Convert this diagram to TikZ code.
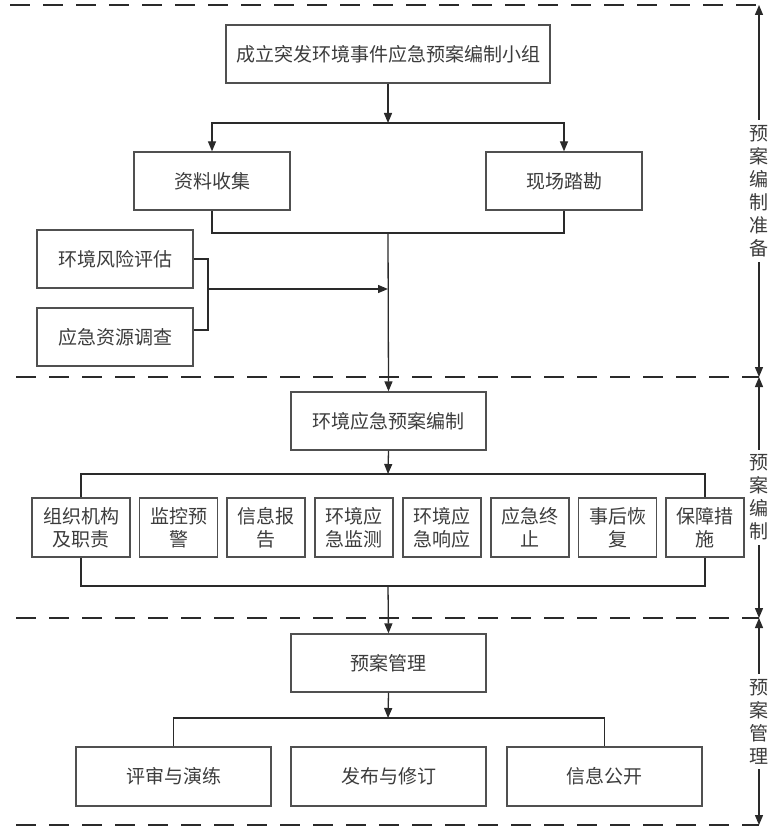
\documentclass[tikz,border=0pt]{standalone}
\usepackage{fontspec}
\newfontfamily\cjk{Noto Sans CJK SC}
\usetikzlibrary{arrows.meta}
\definecolor{boxc}{HTML}{505050}
\definecolor{linec}{HTML}{2A2A2A}
\definecolor{txtc}{HTML}{3C3C3C}
\begin{document}
\begin{tikzpicture}[x=1pt,y=-1pt,
  box/.style={draw=boxc, fill=white, line width=1.3pt, rectangle, minimum height=58pt, inner sep=0pt,
    text=txtc, font=\cjk\fontsize{19}{23}\selectfont, align=center},
  ln/.style={draw=linec, line width=1.3pt},
  arr/.style={ln, -{Triangle[length=10pt,width=8pt]}},
  darr/.style={ln, {Triangle[length=10pt,width=8pt]}-{Triangle[length=10pt,width=8pt]}},
  sepline/.style={draw=linec, line width=1.5pt, dash pattern=on 20pt off 13pt},
  side/.style={text=txtc, font=\cjk\fontsize{19}{23}\selectfont, fill=white, align=center, inner sep=5pt}]
\fill[white] (0,0) rectangle (782,837);
\useasboundingbox (0,0) rectangle (782,837);

% coordinates
\coordinate (d1) at (759,5);
\coordinate (d2) at (759,377);
\coordinate (d3) at (759,618);
\coordinate (d4) at (759,825);
\coordinate (l1) at (10,5);
\coordinate (l2) at (16,377);
\coordinate (l3) at (16,618);
\coordinate (l4) at (16,825);
\coordinate (s1) at (388,123);
\coordinate (m2) at (388,233);
\coordinate (bt) at (208,259);
\coordinate (bb) at (208,330);
\coordinate (bx) at (208,289);
\coordinate (mj) at (388,289);
\coordinate (rt) at (388,474);
\coordinate (rb) at (388,586);
\coordinate (s3) at (388,718);
\coordinate (rl) at (81,527.5);
\coordinate (rr) at (705,527.5);

% separators
\draw[sepline] (l1) -- (d1);
\draw[sepline] (l2) -- (d2);
\draw[sepline] (l3) -- (d3);
\draw[sepline] (l4) -- (d4);

% section 1
\node[box, minimum width=324pt] (top) at (388,54) {成立突发环境事件应急预案编制小组};
\node[box, minimum width=156pt] (zl) at (212,181) {资料收集};
\node[box, minimum width=156pt] (xc) at (564,181) {现场踏勘};
\node[box, minimum width=156pt] (fx) at (115,259) {环境风险评估};
\node[box, minimum width=156pt] (zy) at (115,337) {应急资源调查};

\draw[arr] (top.south) -- (s1);
\draw[arr] (s1) -| (zl.north);
\draw[arr] (s1) -| (xc.north);
\draw[ln] (zl.south) |- (m2) -| (xc.south);
\draw[ln] (fx.east) -| (bt) -- (bb) -- (bb -| zy.east);
\draw[arr] (bx) -- (mj);

% section 2
\node[box, minimum width=195pt] (bz) at (388.5,421) {环境应急预案编制};
\draw[arr] (m2) -- (bz.north);
\draw[arr] (bz.south) -- (rt);
\draw[ln] (rl |- rt) rectangle (rr |- rb);

\begin{scope}[every node/.style={box, minimum height=59pt, minimum width=78pt}]
\node[minimum width=98pt] (b1) at (rl) {组织机构\\及职责};
\node (b2) at (178.5,527.5) {监控预\\警};
\node (b3) at (266,527.5) {信息报\\告};
\node (b4) at (354,527.5) {环境应\\急监测};
\node (b5) at (442,527.5) {环境应\\急响应};
\node (b6) at (530,527.5) {应急终\\止};
\node (b7) at (617.5,527.5) {事后恢\\复};
\node (b8) at (rr) {保障措\\施};
\end{scope}

% section 3
\node[box, minimum width=195pt] (gl) at (388.5,663) {预案管理};
\draw[arr] (rb) -- (gl.north);
\node[box, minimum width=195pt, minimum height=59pt] (ps) at (173.5,776.5) {评审与演练};
\node[box, minimum width=195pt, minimum height=59pt] (fb) at (388.5,776.5) {发布与修订};
\node[box, minimum width=195pt, minimum height=59pt] (gk) at (604.5,776.5) {信息公开};
\draw[arr] (gl.south) -- (s3);
\draw[ln] (ps.north) |- (s3) -| (gk.north);

% side dimension arrows
\draw[darr] (d1) -- (d2) node[midway, side] (t1) {预\\案\\编\\制\\准\\备};
\draw[darr] (d2) -- (d3) node[midway, side] (t2) {预\\案\\编\\制};
\draw[darr] (d3) -- (d4) node[midway, side] (t3) {预\\案\\管\\理};
\end{tikzpicture}
\end{document}
